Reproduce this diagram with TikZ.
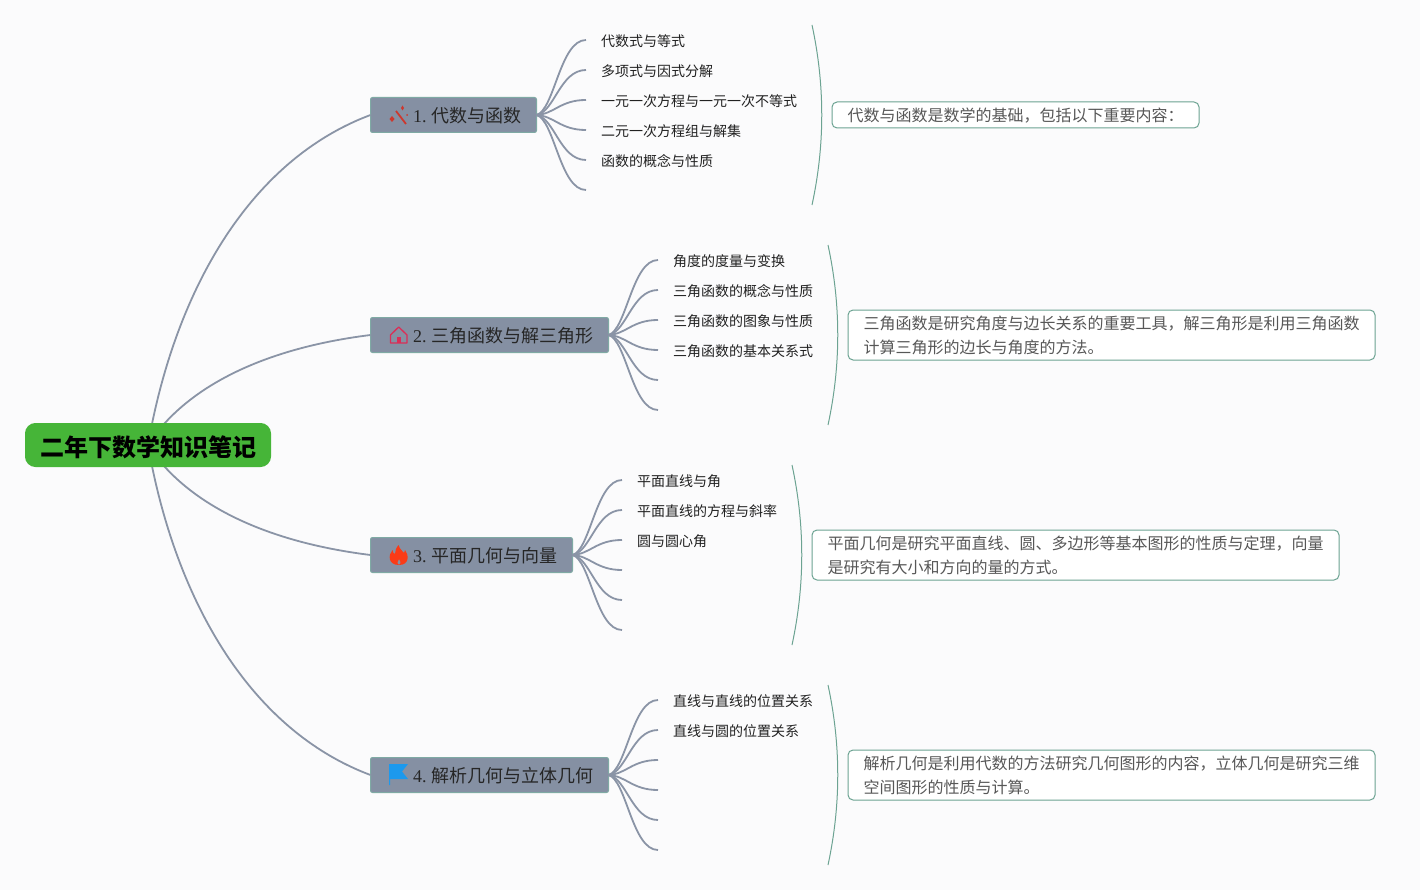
\documentclass[tikz,border=0pt]{standalone}
\usepackage{fontspec}
\setmainfont{Liberation Serif}
\newfontfamily\cjk{Noto Sans CJK SC}
\newlength{\du}
\setlength{\du}{1pt}
\definecolor{pagecolor}{rgb}{0.984000, 0.984000, 0.988000}
\definecolor{rootcolor}{rgb}{0.275000, 0.710000, 0.220000}
\definecolor{branchcolor}{rgb}{0.522000, 0.565000, 0.639000}
\definecolor{edgecolor}{rgb}{0.498000, 0.667000, 0.643000}
\definecolor{linkcolor}{rgb}{0.541000, 0.580000, 0.651000}
\definecolor{bracecolor}{rgb}{0.424000, 0.639000, 0.573000}
\definecolor{notecolor}{rgb}{0.340000, 0.340000, 0.340000}
\definecolor{leafcolor}{rgb}{0.130000, 0.130000, 0.130000}
\tikzset{
  rootbox/.style={draw=rootcolor,fill=rootcolor,rounded corners=10\du,line width=1\du,outer sep=0pt,text=black,inner xsep=14.5\du,inner ysep=0pt,minimum height=43\du,text height=24\du,text depth=1.8\du,font=\cjk\bfseries\fontsize{24}{28}\selectfont},
  branchbox/.style={draw=edgecolor,fill=branchcolor,rounded corners=2\du,line width=1\du,outer sep=0pt,text=black!85,anchor=west,inner xsep=15.5\du,inner ysep=0pt,minimum height=35\du,text height=18\du,text depth=2.4\du,font=\fontsize{18}{22}\selectfont},
  leaftext/.style={anchor=west,inner sep=0pt,outer sep=0pt,text=leafcolor,font=\cjk\fontsize{14}{18}\selectfont},
  notebox/.style={draw=bracecolor,fill=white,rounded corners=5\du,line width=1\du,outer sep=0pt,text=notecolor,anchor=west,align=left,inner xsep=15.5\du,inner ysep=0pt,font=\cjk\fontsize{16}{24}\selectfont},
  rootlink/.style={draw=linkcolor,line width=1.8\du},
  leaflink/.style={draw=linkcolor,line width=1.8\du},
  bracket/.style={draw=bracecolor,line width=1\du},
}
\newcommand{\brlabel}[2]{\hspace*{27\du}#1\ {\cjk #2}}

\begin{document}
\begin{tikzpicture}[even odd rule]
\pgftransformxscale{1.000000}
\pgftransformyscale{-1.000000}
\fill[pagecolor] (0\du,0\du) rectangle (1420\du,890\du);
\useasboundingbox (0\du,0\du) rectangle (1420\du,890\du);
% root and branches
\coordinate (rootc) at (148\du,445\du);
\node[branchbox] (b1) at (370.5\du,115\du){\brlabel{1.}{代数与函数}};
\node[branchbox] (b2) at (370.5\du,335\du){\brlabel{2.}{三角函数与解三角形}};
\node[branchbox] (b3) at (370.5\du,555\du){\brlabel{3.}{平面几何与向量}};
\node[branchbox] (b4) at (370.5\du,775\du){\brlabel{4.}{解析几何与立体几何}};
\draw[rootlink] (rootc) .. controls (175\du,290\du) and (250\du,160\du) .. (b1.west);
\draw[rootlink] (rootc) .. controls (180\du,395\du) and (250\du,350\du) .. (b2.west);
\draw[rootlink] (rootc) .. controls (180\du,495\du) and (250\du,540\du) .. (b3.west);
\draw[rootlink] (rootc) .. controls (175\du,600\du) and (250\du,730\du) .. (b4.west);
\node[rootbox] (root) at (148\du,445\du){二年下数学知识笔记};
% branch 1
\coordinate (e11) at (586\du,40\du);
\coordinate (e12) at (586\du,70\du);
\coordinate (e13) at (586\du,100\du);
\coordinate (e14) at (586\du,130\du);
\coordinate (e15) at (586\du,160\du);
\coordinate (e16) at (586\du,190\du);
\draw[leaflink] (b1.east) .. controls +(18\du,-5\du) and +(-26\du,0\du) .. (e11);
\draw[leaflink] (b1.east) .. controls +(18\du,-3\du) and +(-26\du,0\du) .. (e12);
\draw[leaflink] (b1.east) .. controls +(18\du,-1\du) and +(-26\du,0\du) .. (e13);
\draw[leaflink] (b1.east) .. controls +(18\du,1\du) and +(-26\du,0\du) .. (e14);
\draw[leaflink] (b1.east) .. controls +(18\du,3\du) and +(-26\du,0\du) .. (e15);
\draw[leaflink] (b1.east) .. controls +(18\du,5\du) and +(-26\du,0\du) .. (e16);
\node[leaftext] (l11) at (601\du,41.5\du){代数式与等式};
\node[leaftext] (l12) at (601\du,71.5\du){多项式与因式分解};
\node[leaftext] (l13) at (601\du,101.5\du){一元一次方程与一元一次不等式};
\node[leaftext] (l14) at (601\du,131.5\du){二元一次方程组与解集};
\node[leaftext] (l15) at (601\du,161.5\du){函数的概念与性质};
% branch 2
\coordinate (e21) at (658\du,260\du);
\coordinate (e22) at (658\du,290\du);
\coordinate (e23) at (658\du,320\du);
\coordinate (e24) at (658\du,350\du);
\coordinate (e25) at (658\du,380\du);
\coordinate (e26) at (658\du,410\du);
\draw[leaflink] (b2.east) .. controls +(18\du,-5\du) and +(-26\du,0\du) .. (e21);
\draw[leaflink] (b2.east) .. controls +(18\du,-3\du) and +(-26\du,0\du) .. (e22);
\draw[leaflink] (b2.east) .. controls +(18\du,-1\du) and +(-26\du,0\du) .. (e23);
\draw[leaflink] (b2.east) .. controls +(18\du,1\du) and +(-26\du,0\du) .. (e24);
\draw[leaflink] (b2.east) .. controls +(18\du,3\du) and +(-26\du,0\du) .. (e25);
\draw[leaflink] (b2.east) .. controls +(18\du,5\du) and +(-26\du,0\du) .. (e26);
\node[leaftext] (l21) at (673\du,261.5\du){角度的度量与变换};
\node[leaftext] (l22) at (673\du,291.5\du){三角函数的概念与性质};
\node[leaftext] (l23) at (673\du,321.5\du){三角函数的图象与性质};
\node[leaftext] (l24) at (673\du,351.5\du){三角函数的基本关系式};
% branch 3
\coordinate (e31) at (622\du,480\du);
\coordinate (e32) at (622\du,510\du);
\coordinate (e33) at (622\du,540\du);
\coordinate (e34) at (622\du,570\du);
\coordinate (e35) at (622\du,600\du);
\coordinate (e36) at (622\du,630\du);
\draw[leaflink] (b3.east) .. controls +(18\du,-5\du) and +(-26\du,0\du) .. (e31);
\draw[leaflink] (b3.east) .. controls +(18\du,-3\du) and +(-26\du,0\du) .. (e32);
\draw[leaflink] (b3.east) .. controls +(18\du,-1\du) and +(-26\du,0\du) .. (e33);
\draw[leaflink] (b3.east) .. controls +(18\du,1\du) and +(-26\du,0\du) .. (e34);
\draw[leaflink] (b3.east) .. controls +(18\du,3\du) and +(-26\du,0\du) .. (e35);
\draw[leaflink] (b3.east) .. controls +(18\du,5\du) and +(-26\du,0\du) .. (e36);
\node[leaftext] (l31) at (637\du,481.5\du){平面直线与角};
\node[leaftext] (l32) at (637\du,511.5\du){平面直线的方程与斜率};
\node[leaftext] (l33) at (637\du,541.5\du){圆与圆心角};
% branch 4
\coordinate (e41) at (658\du,700\du);
\coordinate (e42) at (658\du,730\du);
\coordinate (e43) at (658\du,760\du);
\coordinate (e44) at (658\du,790\du);
\coordinate (e45) at (658\du,820\du);
\coordinate (e46) at (658\du,850\du);
\draw[leaflink] (b4.east) .. controls +(18\du,-5\du) and +(-26\du,0\du) .. (e41);
\draw[leaflink] (b4.east) .. controls +(18\du,-3\du) and +(-26\du,0\du) .. (e42);
\draw[leaflink] (b4.east) .. controls +(18\du,-1\du) and +(-26\du,0\du) .. (e43);
\draw[leaflink] (b4.east) .. controls +(18\du,1\du) and +(-26\du,0\du) .. (e44);
\draw[leaflink] (b4.east) .. controls +(18\du,3\du) and +(-26\du,0\du) .. (e45);
\draw[leaflink] (b4.east) .. controls +(18\du,5\du) and +(-26\du,0\du) .. (e46);
\node[leaftext] (l41) at (673\du,701.5\du){直线与直线的位置关系};
\node[leaftext] (l42) at (673\du,731.5\du){直线与圆的位置关系};
% brackets
\coordinate (t1) at (812\du,25\du);
\coordinate (u1) at (812\du,205\du);
\coordinate (t2) at (828\du,245\du);
\coordinate (u2) at (828\du,425\du);
\coordinate (t3) at (792\du,465\du);
\coordinate (u3) at (792\du,645\du);
\coordinate (t4) at (828\du,685\du);
\coordinate (u4) at (828\du,865\du);
\draw[bracket] (t1) .. controls +(13\du,60\du) and +(13\du,-60\du) .. (u1);
\draw[bracket] (t2) .. controls +(13\du,60\du) and +(13\du,-60\du) .. (u2);
\draw[bracket] (t3) .. controls +(13\du,60\du) and +(13\du,-60\du) .. (u3);
\draw[bracket] (t4) .. controls +(13\du,60\du) and +(13\du,-60\du) .. (u4);
% notes
\node[notebox,minimum height=26\du,text height=15\du,text depth=1.8\du] (s1) at (832\du,115\du){代数与函数是数学的基础，包括以下重要内容：};
\node[notebox,minimum height=50\du] (s2) at (848\du,335\du){三角函数是研究角度与边长关系的重要工具，解三角形是利用三角函数\\计算三角形的边长与角度的方法。};
\node[notebox,minimum height=50\du] (s3) at (812\du,555\du){平面几何是研究平面直线、圆、多边形等基本图形的性质与定理，向量\\是研究有大小和方向的量的方式。};
\node[notebox,minimum height=50\du] (s4) at (848\du,775\du){解析几何是利用代数的方法研究几何图形的内容，立体几何是研究三维\\空间图形的性质与计算。};
% icon wand
\definecolor{wandcolor}{rgb}{0.800000, 0.220000, 0.180000}
\draw[draw=wandcolor,line width=1.8\du] (396\du,111\du)--(406\du,124\du);
\fill[wandcolor] (402.5\du,105.5\du)--(404\du,108\du)--(402.5\du,110.5\du)--(401\du,108\du)--cycle;
\fill[wandcolor] (392\du,116\du)--(394.5\du,119\du)--(392\du,122\du)--(389.5\du,119\du)--cycle;
\fill[wandcolor] (407\du,114\du)--(408\du,115\du)--(407\du,116\du)--(406\du,115\du)--cycle;
% icon house
\definecolor{housecolor}{rgb}{0.860000, 0.180000, 0.340000}
\draw[draw=housecolor,line width=1.3\du,line join=round] (390.5\du,335\du)--(398.7\du,327\du)--(407\du,335\du)--(407\du,343\du)--(390.5\du,343\du)--cycle;
\fill[housecolor] (396.7\du,337\du) rectangle (400.7\du,343\du);
% icon flame
\definecolor{flamecolor}{rgb}{0.980000, 0.230000, 0.090000}
\fill[flamecolor] (398.5\du,545\du) .. controls (400\du,550\du) and (403\du,551\du) .. (404\du,553\du) .. controls (405\du,552\du) and (405\du,551\du) .. (405\du,550\du) .. controls (409\du,555\du) and (409.5\du,565\du) .. (399\du,565\du) .. controls (388\du,565\du) and (388\du,555\du) .. (392.5\du,550\du) .. controls (392.5\du,552\du) and (393.5\du,553.5\du) .. (395\du,554\du) .. controls (395\du,551\du) and (396\du,548\du) .. (398.5\du,545\du)--cycle (399\du,559\du) .. controls (397.5\du,561\du) and (396.5\du,563\du) .. (399\du,565\du) .. controls (401.5\du,563\du) and (400.5\du,561\du) .. (399\du,559\du)--cycle;
% icon flag
\definecolor{flagcolor}{rgb}{0.110000, 0.600000, 0.930000}
\fill[flagcolor] (389\du,764\du)--(408\du,764\du)--(402\du,771.5\du)--(408\du,779\du)--(390\du,779\du)--(390\du,785\du)--(389\du,785\du)--cycle;
\end{tikzpicture}
\end{document}
